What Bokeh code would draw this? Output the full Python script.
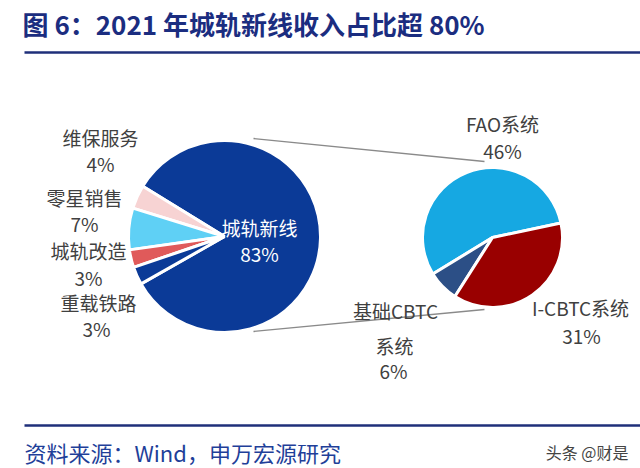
import numpy as np
from bokeh.plotting import figure
from bokeh.models import ColumnDataSource, Range1d
from bokeh.core.properties import value
from bokeh.embed import file_html
from bokeh.resources import INLINE

# ---- data ----
main_labels = ["城轨新线", "维保服务", "零星销售", "城轨改造", "重载铁路"]
main_values = [83, 4, 7, 3, 3]
sub_labels = ["FAO系统", "基础CBTC系统", "I-CBTC系统"]
sub_values = [46, 6, 31]

title_text = "图 6：2021 年城轨新线收入占比超 80%"
source_text = "资料来源：Wind，申万宏源研究"
mark_text = "头条 @财是"

# ---- styles / layout ----
main_colors = ["#0b3a97", "#f7d3d3", "#5fd0f5", "#e05a5a", "#0b3a97"]
sub_colors = ["#16a8e2", "#2c4f86", "#990000"]
FONT = "Noto Sans CJK SC"
LABEL_COLOR = "#404040"
NAVY = "#1f2f7a"

W, H = 640, 468

def SY(y):
    return H - y

p = figure(width=W, height=H, x_range=Range1d(0, W), y_range=Range1d(0, H),
           output_backend="svg", toolbar_location=None,
           x_axis_type=None, y_axis_type=None, min_border=0,
           outline_line_color=None, background_fill_color="white",
           border_fill_color="white")
p.grid.visible = False

def wedges(values, start_deg, cx, cy, r, colors):
    vals = np.array(values, dtype=float)
    frac = vals / vals.sum()
    ends = start_deg + np.cumsum(frac) * 360.0
    starts = ends - frac * 360.0
    src = ColumnDataSource(dict(start=np.radians(starts), end=np.radians(ends), color=colors))
    p.wedge(x=cx, y=SY(cy), radius=r, start_angle="start", end_angle="end",
            direction="anticlock", fill_color="color", line_color="white",
            line_width=3, source=src)

# main pie
wedges(main_values, -150.4, 224, 236, 96, main_colors)
# sub pie
wedges(sub_values, 12.0, 492, 237, 70, sub_colors)

# connector lines
p.segment(x0=[253, 253], y0=[SY(138), SY(331)], x1=[484, 484], y1=[SY(161), SY(309)],
          line_color="#8a8a8a", line_width=1.3)

# header / footer rules
p.segment(x0=[24, 24], y0=[SY(52), SY(425)], x1=[640, 640], y1=[SY(52), SY(425)],
          line_color=NAVY, line_width=2.5)

def txt(x, y, s, size, color, align="center", style="normal"):
    p.text(x=[x], y=[SY(y)], text=[s], text_font=value(FONT), text_font_size=size,
           text_color=color, text_align=align, text_baseline="middle",
           text_font_style=style)

# title & footer
txt(22, 23, title_text, "26px", "#1b2d80", align="left", style="bold")
txt(24, 451, source_text, "22px", "#1f3f99", align="left")
txt(628, 451, mark_text, "16px", "#444444", align="right")

# main pie labels
name_pos = [(259, 227), (100, 137), (84, 197), (88, 250), (98, 302)]
pct_pos = [(259, 253), (100, 163), (84, 223), (88, 277), (96, 328)]
for i, (lab, v) in enumerate(zip(main_labels, main_values)):
    col = "white" if i == 0 else LABEL_COLOR
    txt(name_pos[i][0], name_pos[i][1], lab, "19px", col)
    txt(pct_pos[i][0], pct_pos[i][1], f"{v}%", "19px", col)

# sub pie labels
txt(502, 123, sub_labels[0], "19px", LABEL_COLOR)
txt(502, 150, f"{sub_values[0]}%", "19px", LABEL_COLOR)
txt(580, 307, sub_labels[2], "19px", LABEL_COLOR)
txt(581, 335, f"{sub_values[2]}%", "19px", LABEL_COLOR)
txt(395, 310, sub_labels[1][:6], "19px", LABEL_COLOR)
txt(394, 345, sub_labels[1][6:], "19px", LABEL_COLOR)
txt(393, 370, f"{sub_values[1]}%", "19px", LABEL_COLOR)

open("out.html", "w").write(file_html(p, INLINE))
